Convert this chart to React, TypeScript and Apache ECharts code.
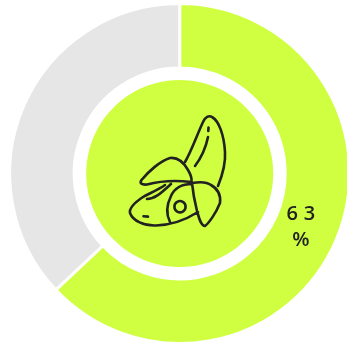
import React, { useEffect, useRef } from "react";
import * as echarts from "echarts";

const sliceNames = ["Filled", "Rest"];
const sliceValues = [63, 37];
const sliceColors = ["#cfff40", "#e6e6e6"];
const labelText = "63\n%";

const iconPath =
  "M185 162 C191 152 197 135 203 122 C205 117 209 115 212 117 C219 121 224 135 225 152 C226 165 222 176 218 186 " +
  "M195 166 C201 158 206 147 208 137 M208.5 127.5 L208.3 131 " +
  "M141.5 180 C148 172 160 161 170 158 C178 157 184 163 188 170 C191 175 192 179 191.5 182 C175 180 160 181 147 184.5 C141 185 139.5 183 141.5 180 Z " +
  "M192 183 C198 182 207 182 211 185 C218 189 221 195 220 203 C216 213 209 223 205 226 C201 226 199 218 197 211 C195 203 193 193 192 183 Z " +
  "M165 185 C158 190 148 194 143 197 C134 203 129 208 130 213 C133 221 144 226 156 225.5 C171 225 187 219 198 212 " +
  "M147 199 C155 199 161 193 171 184 " +
  "M192 184 C182 184 175 187 171 196 C167 204 165 212 170 222 " +
  "M143.5 216.3 L148 216.6";

echarts.graphic.registerShape("bananaIcon", echarts.graphic.extendPath(iconPath, {}));

export default function App() {
  const ref = useRef<HTMLDivElement>(null);
  useEffect(() => {
    const chart = echarts.init(ref.current!, null, { renderer: "svg" });
    chart.setOption({
      animation: false,
      series: [
        {
          type: "pie",
          silent: true,
          center: [179.7, 173.5],
          radius: [105.5, 170],
          startAngle: 90,
          clockwise: true,
          itemStyle: { borderColor: "#ffffff", borderWidth: 3 },
          label: {
            show: true,
            position: "inside",
            formatter: () => labelText,
            fontFamily: "Open Sans",
            fontSize: 20,
            fontWeight: 600,
            lineHeight: 26,
            color: "#222222",
            offset: [-5, -3.5],
          },
          labelLine: { show: false },
          data: sliceNames.map((name, i) => ({
            name,
            value: sliceValues[i],
            itemStyle: { color: sliceColors[i] },
            label: { show: i === 0 },
          })),
        },
        {
          type: "pie",
          silent: true,
          center: [179.7, 173.5],
          radius: [0, 93.5],
          label: { show: false },
          labelLine: { show: false },
          data: [{ name: "Disc", value: 1, itemStyle: { color: sliceColors[0] } }],
        },
      ],
      graphic: [
        {
          type: "bananaIcon",
          x: 0,
          y: 0,
          z: 20,
          silent: true,
          style: { fill: "none", stroke: "#222222", lineWidth: 2.6, lineCap: "round", lineJoin: "round" },
        },
        {
          type: "circle",
          z: 20,
          silent: true,
          shape: { cx: 180, cy: 206.7, r: 5.6 },
          style: { fill: "none", stroke: "#222222", lineWidth: 2.6 },
        },
      ],
    });
    return () => chart.dispose();
  }, []);
  return <div ref={ref} style={{ width: 347, height: 344, position: "fixed", left: 0, top: 0, letterSpacing: "6px" }} />;
}
